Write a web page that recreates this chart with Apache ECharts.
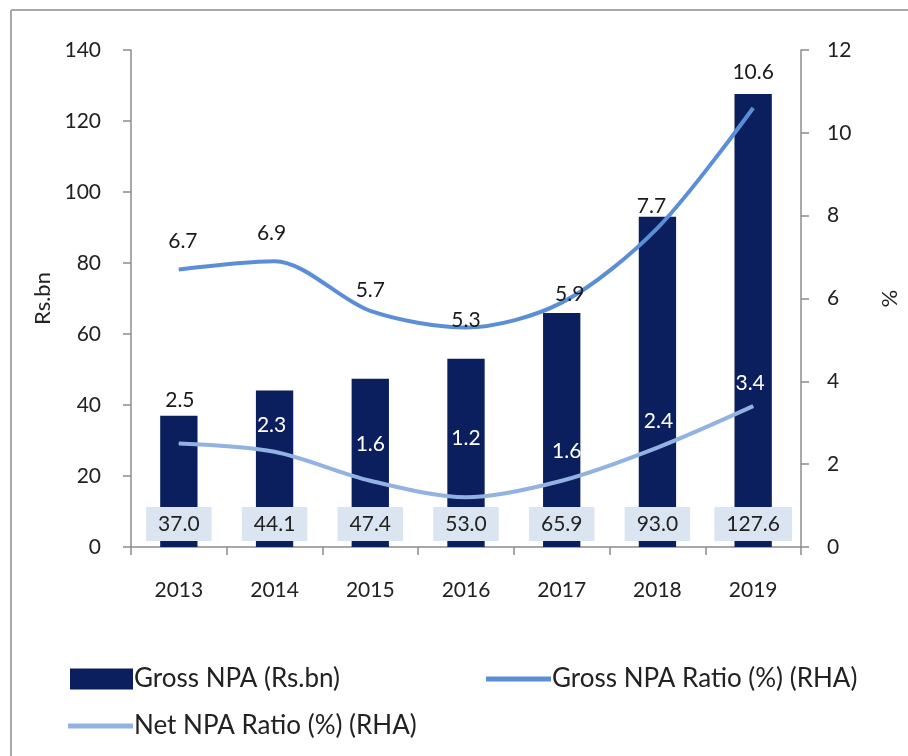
<!DOCTYPE html>
<html>
<head>
<meta charset="utf-8">
<script src="https://cdn.jsdelivr.net/npm/echarts@6/dist/echarts.min.js"></script>
<style>
html,body{margin:0;padding:0;background:#fff;}
#c{width:908px;height:756px;}
</style>
</head>
<body>
<div id="c"></div>
<script>
const years = ['2013','2014','2015','2016','2017','2018','2019'];
const grossNPA = [37.0, 44.1, 47.4, 53.0, 65.9, 93.0, 127.6];
const grossRatio = [6.7, 6.9, 5.7, 5.3, 5.9, 7.7, 10.6];
const netRatio = [2.5, 2.3, 1.6, 1.2, 1.6, 2.4, 3.4];

// label layout tweaks (pixels), not data
const grossLabelOffsets = [[4,-28],[-3,-28],[0,-21],[0,-7],[8,-8],[-6,-22],[0,-36]];
const netLabelOffsets = [[1,-43],[-3,-27],[0,-36],[0,-59],[5,-29],[1,-26],[-3,-23]];
const netLabelColors = ['#1a1a1a','#fff','#fff','#fff','#fff','#fff','#fff'];

const FONT = 'Lato';
const BAR = '#0b1f5e';
const GL = '#5a8fd8';
const NL = '#92b2e2';

const chart = echarts.init(document.getElementById('c'), null, {renderer:'canvas'});
chart.setOption({
  backgroundColor: '#fff',
  animation: false,
  textStyle: {fontFamily: FONT},
  graphic: [
    {type:'line', shape:{x1:11,y1:10,x2:11,y2:756}, style:{stroke:'#a9a9a9', lineWidth:2}},
    {type:'line', shape:{x1:11,y1:10,x2:908,y2:10}, style:{stroke:'#a9a9a9', lineWidth:2}}
  ],
  grid: {left:131, right:85, top:50, bottom:209, containLabel:false},
  legend: [
    {left:70, top:666, padding:0, data:['Gross NPA (Rs.bn)'], icon:'rect', itemWidth:63, itemHeight:21, itemGap:0,
     textStyle:{fontFamily:FONT, fontSize:26, color:'#222', padding:[0,0,0,-4]}},
    {left:486, top:666, padding:0, data:['Gross NPA Ratio (%) (RHA)'], icon:'rect', itemWidth:65, itemHeight:5,
     textStyle:{fontFamily:FONT, fontSize:26, color:'#222', padding:[0,0,0,-4]}},
    {left:68, top:713, padding:0, data:['Net NPA Ratio (%) (RHA)'], icon:'rect', itemWidth:65, itemHeight:5,
     textStyle:{fontFamily:FONT, fontSize:26, color:'#222', padding:[0,0,0,-4]}}
  ],
  xAxis: {
    type:'category', data: years, boundaryGap:true,
    axisLine:{lineStyle:{color:'#8c8c8c', width:1.5}},
    axisTick:{show:true, length:8, lineStyle:{color:'#8c8c8c', width:1.5}},
    axisLabel:{fontFamily:FONT, fontSize:21, color:'#222', margin:33}
  },
  yAxis: [
    {type:'value', min:0, max:140, interval:20, name:'Rs.bn', nameLocation:'middle', nameGap:76, nameRotate:90,
     nameTextStyle:{fontFamily:FONT, fontSize:22, color:'#222'},
     axisLine:{show:true, lineStyle:{color:'#8c8c8c', width:1.5}},
     axisTick:{show:true, length:8, lineStyle:{color:'#8c8c8c', width:1.5}},
     splitLine:{show:false},
     axisLabel:{fontFamily:FONT, fontSize:21, color:'#222', margin:30}},
    {type:'value', min:0, max:12, interval:2, name:'%', nameLocation:'middle', nameGap:77, nameRotate:-90,
     nameTextStyle:{fontFamily:FONT, fontSize:22, color:'#222'},
     axisLine:{show:true, lineStyle:{color:'#8c8c8c', width:1.5}},
     axisTick:{show:true, length:8, lineStyle:{color:'#8c8c8c', width:1.5}},
     splitLine:{show:false},
     axisLabel:{fontFamily:FONT, fontSize:21, color:'#222', margin:26}}
  ],
  series: [
    {name:'Gross NPA (Rs.bn)', type:'bar', yAxisIndex:0, data: grossNPA, barWidth:'39%',
     itemStyle:{color:BAR},
     label:{show:true, position:'insideBottom', distance:6, formatter:(p)=>p.value.toFixed(1),
       fontFamily:FONT, fontSize:21, color:'#222', backgroundColor:'#dbe5f1', padding:[5,12,5,12], lineHeight:24}},
    {name:'Gross NPA Ratio (%) (RHA)', type:'line', yAxisIndex:1, smooth:0.3, z:5,
     data: grossRatio.map((v,i)=>({value:v, label:{offset:grossLabelOffsets[i]}})),
     symbol:'circle', symbolSize:1, itemStyle:{color:GL}, lineStyle:{color:GL, width:4},
     label:{show:true, position:'inside', formatter:(p)=>p.value.toFixed(1), fontFamily:FONT, fontSize:21, color:'#1a1a1a'}},
    {name:'Net NPA Ratio (%) (RHA)', type:'line', yAxisIndex:1, smooth:0.3, z:5,
     data: netRatio.map((v,i)=>({value:v, label:{offset:netLabelOffsets[i], color:netLabelColors[i]}})),
     symbol:'circle', symbolSize:1, itemStyle:{color:NL}, lineStyle:{color:NL, width:4},
     label:{show:true, position:'inside', formatter:(p)=>p.value.toFixed(1), fontFamily:FONT, fontSize:21}}
  ]
});
</script>
</body>
</html>
